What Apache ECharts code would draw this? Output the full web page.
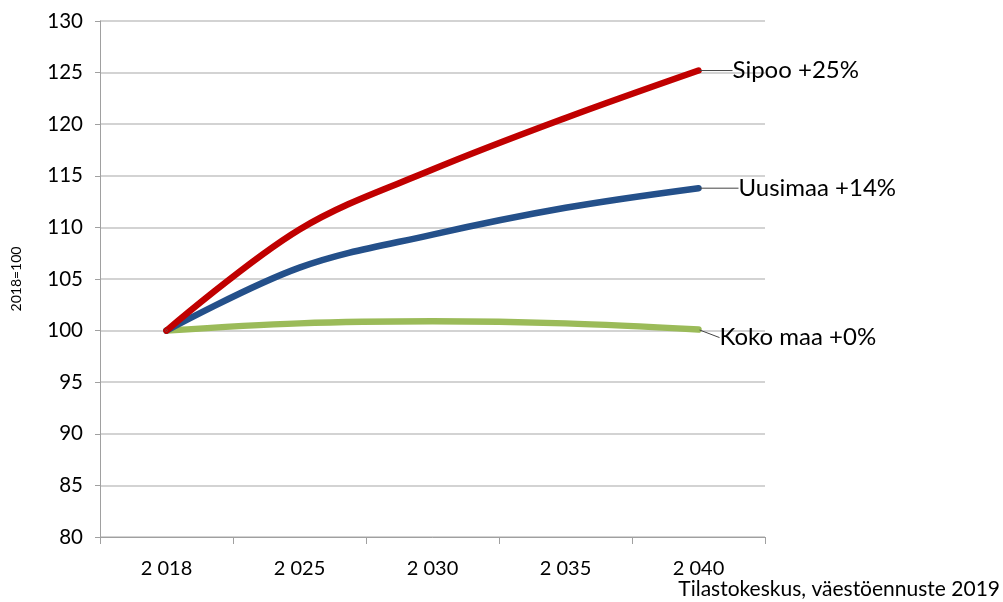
<!DOCTYPE html>
<html><head><meta charset="utf-8">
<script src="https://cdn.jsdelivr.net/npm/echarts@6/dist/echarts.min.js"></script>
<style>html,body{margin:0;padding:0;background:#fff}#c{width:1003px;height:602px}</style>
</head><body><div id="c"></div>
<script>
const categories = ['2 018', '2 025', '2 030', '2 035', '2 040'];
const sipoo = [100, 109.8, 115.6, 120.6, 125.2];
const uusimaa = [100, 106.1, 109.3, 111.9, 113.8];
const kokoMaa = [100, 100.7, 100.9, 100.7, 100.1];
const labels = ['Sipoo +25%', 'Uusimaa +14%', 'Koko maa +0%'];
const yAxisName = '2018=100';
const source = 'Tilastokeskus, väestöennuste 2019';

const font = 'Lato, "Open Sans", sans-serif';
function mk(name, data, color, dx, dy) {
  const last = data.length - 1;
  return {
    type: 'line', name, smooth: 0.35, symbol: 'circle', symbolSize: 2, showSymbol: true,
    data: data.map((v, i) => i === last ? {
      value: v,
      label: { show: true, formatter: name, position: 'right', distance: 4, color: '#000', fontSize: 24, fontFamily: font }
    } : v),
    label: { show: false },
    lineStyle: { color, width: 6.5, cap: 'round' }, itemStyle: { color },
    labelLayout: { dx, dy },
    labelLine: { show: true, lineStyle: { color: '#444', width: 1 } },
    emphasis: { disabled: true }, z: 3
  };
}
const chart = echarts.init(document.getElementById('c'));
chart.setOption({
  animation: false,
  grid: { left: 100, right: 238, top: 21, bottom: 65 },
  xAxis: {
    type: 'category', data: categories, boundaryGap: true,
    axisLine: { lineStyle: { color: '#a0a0a0' } },
    axisTick: { show: true, length: 7, lineStyle: { color: '#a0a0a0' } },
    axisLabel: { color: '#000', fontSize: 20, fontFamily: font, margin: 22 }
  },
  yAxis: {
    type: 'value', min: 80, max: 130, interval: 5,
    name: yAxisName, nameLocation: 'middle', nameGap: 77, nameRotate: 90,
    nameTextStyle: { color: '#000', fontSize: 14, fontFamily: font },
    axisLine: { show: true, lineStyle: { color: '#a0a0a0' } },
    axisTick: { show: true, length: 5, lineStyle: { color: '#a0a0a0' } },
    axisLabel: { color: '#000', fontSize: 20.5, fontFamily: font, margin: 17 },
    splitLine: { lineStyle: { color: '#c4c4c4', width: 1.5 } }
  },
  series: [
    mk(labels[2], kokoMaa, '#9bbb59', 16, 8),
    mk(labels[1], uusimaa, '#24508a', 35, 0),
    mk(labels[0], sipoo, '#c00000', 29, 0)
  ],
  graphic: [{ type: 'text', right: 3, bottom: 2, style: { text: source, fontSize: 21, fontFamily: font, fill: '#000' } }]
});
</script></body></html>
